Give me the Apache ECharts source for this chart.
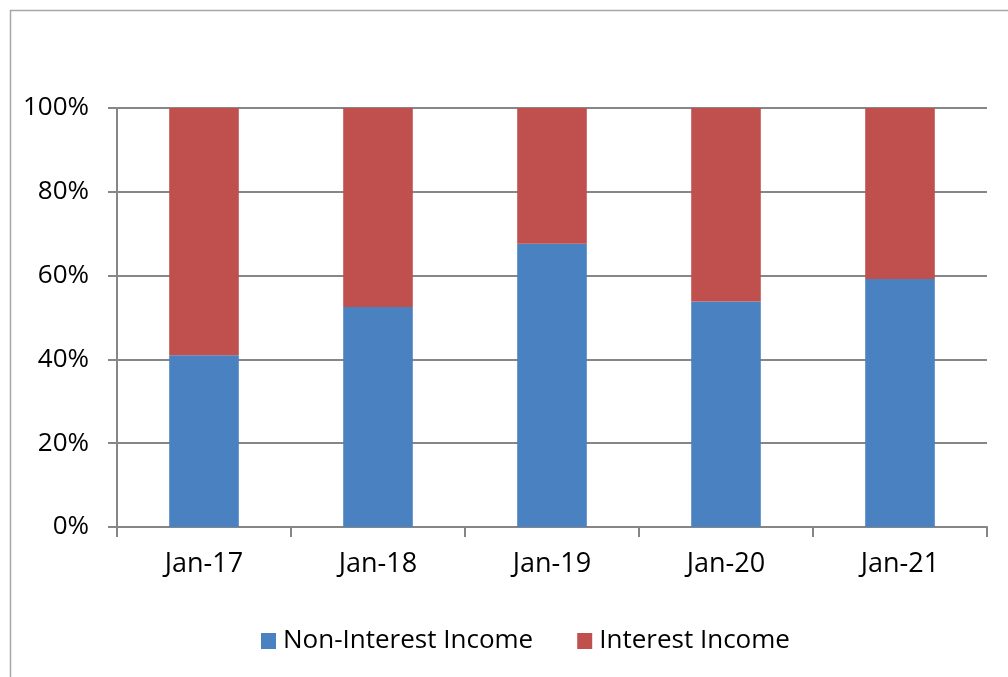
<!DOCTYPE html>
<html>
<head>
<meta charset="utf-8">
<script src="https://cdn.jsdelivr.net/npm/echarts@6/dist/echarts.min.js"></script>
<style>
  html, body { margin: 0; padding: 0; background: #fff; }
  #chart { width: 1008px; height: 677px; }
</style>
</head>
<body>
<div id="chart"></div>
<script>
// Share of income by type, per year (percent of total)
const categories = ['Jan-17', 'Jan-18', 'Jan-19', 'Jan-20', 'Jan-21'];
const nonInterestIncome = [41.0, 52.5, 67.6, 53.8, 59.2];
const interestIncome = nonInterestIncome.map(v => +(100 - v).toFixed(1));
const seriesNames = ['Non-Interest Income', 'Interest Income'];
const seriesColors = ['#4A81C0', '#C0504D'];

const FONT = '"Open Sans", "Liberation Sans", sans-serif';
const chart = echarts.init(document.getElementById('chart'), null, { renderer: 'canvas' });

chart.setOption({
  animation: false,
  backgroundColor: '#fff',
  graphic: [{
    type: 'rect',
    shape: { x: 10.5, y: 10.5, width: 1010, height: 700 },
    style: { fill: 'none', stroke: '#A6A6A6', lineWidth: 1.5 },
    silent: true
  }],
  grid: { left: 117, right: 21, top: 108, bottom: 150, containLabel: false },
  legend: {
    top: 623,
    left: 256,
    itemWidth: 15,
    itemHeight: 16,
    itemGap: 44,
    icon: 'rect',
    textStyle: { fontFamily: FONT, fontSize: 26, color: '#000', padding: [0, 0, 0, 2] },
    data: seriesNames
  },
  xAxis: {
    type: 'category',
    data: categories,
    boundaryGap: true,
    axisLine: { lineStyle: { color: '#868686', width: 2 } },
    axisTick: { show: true, length: 10, lineStyle: { color: '#868686', width: 2 } },
    axisLabel: { fontFamily: FONT, fontSize: 27, color: '#000', margin: 24 }
  },
  yAxis: {
    type: 'value',
    min: 0,
    max: 100,
    interval: 20,
    axisLine: { show: true, lineStyle: { color: '#868686', width: 2 } },
    axisTick: { show: true, length: 9, lineStyle: { color: '#868686', width: 2 } },
    splitLine: { show: true, lineStyle: { color: '#868686', width: 2 } },
    axisLabel: { fontFamily: FONT, fontSize: 26, color: '#000', margin: 28, formatter: '{value}%' }
  },
  series: [
    {
      name: seriesNames[0],
      type: 'bar',
      stack: 'total',
      barWidth: '40%',
      itemStyle: { color: seriesColors[0] },
      data: nonInterestIncome
    },
    {
      name: seriesNames[1],
      type: 'bar',
      stack: 'total',
      barWidth: '40%',
      itemStyle: { color: seriesColors[1] },
      data: interestIncome
    }
  ]
});
</script>
</body>
</html>
